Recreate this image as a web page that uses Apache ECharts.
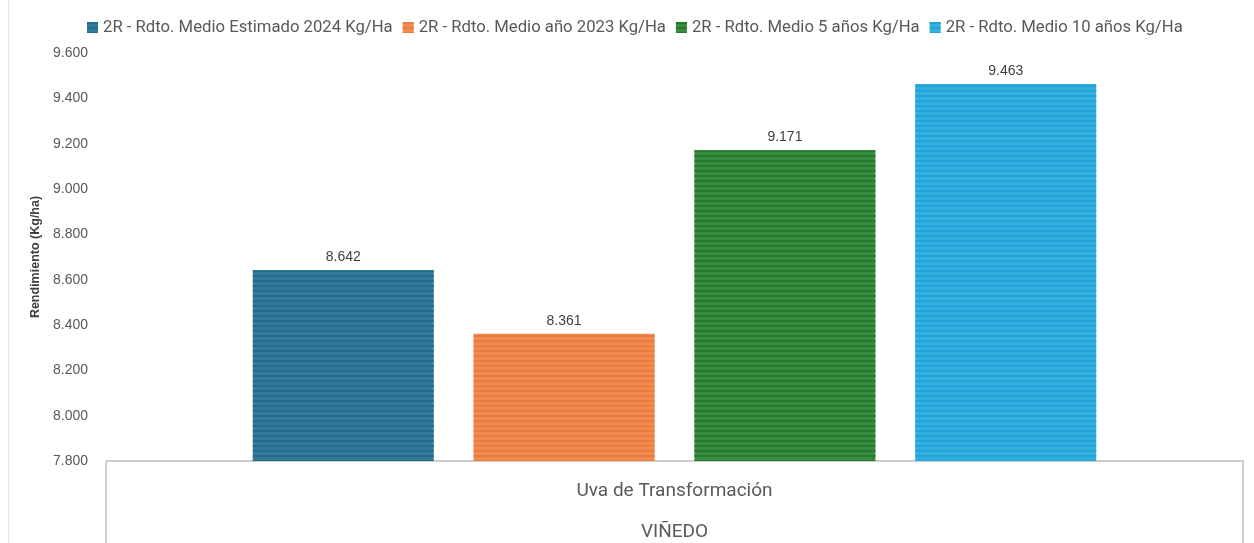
<!DOCTYPE html>
<html>
<head>
<meta charset="utf-8">
<script src="https://cdn.jsdelivr.net/npm/echarts@6/dist/echarts.min.js"></script>
<style>
  html, body { margin: 0; padding: 0; background: #fff; }
  #chart { width: 1254px; height: 543px; }
</style>
</head>
<body>
<div id="chart"></div>
<script>
// datos (Kg/ha)
var categorias = ['Uva de Transformación'];
var grupo = 'VIÑEDO';
var nombresSeries = [
    '2R - Rdto. Medio Estimado 2024 Kg/Ha',
    '2R - Rdto. Medio año 2023 Kg/Ha',
    '2R - Rdto. Medio 5 años Kg/Ha',
    '2R - Rdto. Medio 10 años Kg/Ha'
];
var rdto2024 = [8642];
var rdto2023 = [8361];
var rdto5 = [9171];
var rdto10 = [9463];
var ejeMin = 7800, ejeMax = 9600, ejeIntervalo = 200;

var colores = ['#33799a', '#f08a4e', '#398b3d', '#33afdf'];
var rayas = ['#236c8c', '#e87d40', '#287a2f', '#23a4d9'];

// separador de miles con punto
function miles(v) {
    return String(Math.round(v)).replace(/\B(?=(\d{3})+(?!\d))/g, '.');
}

var myChart = echarts.init(document.getElementById('chart'));

var valores = [rdto2024, rdto2023, rdto5, rdto10];
var series = [];
for (var i = 0; i < valores.length; i++) {
    series.push({
        name: nombresSeries[i],
        type: 'bar',
        barWidth: 181,
        barGap: '22%',
        data: valores[i],
        itemStyle: {
            color: colores[i],
            decal: {
                symbol: 'rect',
                symbolSize: 1,
                color: rayas[i],
                dashArrayX: [1, 0],
                dashArrayY: [2, 3],
                rotation: 0
            }
        },
        label: {
            show: true,
            position: 'top',
            distance: 6,
            color: '#404040',
            fontSize: 14,
            fontFamily: 'Liberation Sans',
            formatter: function (p) { return miles(p.value); }
        }
    });
}

var option = {
    backgroundColor: '#fff',
    color: colores,
    animation: false,
    legend: {
        top: 14,
        left: 82,
        itemWidth: 11,
        itemHeight: 11,
        itemGap: 10,
        icon: 'rect',
        textStyle: { color: '#595959', fontSize: 16.7, fontFamily: 'Roboto' },
        data: nombresSeries
    },
    grid: { left: 106, right: 11, top: 53, bottom: 82 },
    xAxis: {
        type: 'category',
        data: categorias,
        axisLine: { lineStyle: { color: '#cfcfcf', width: 2 } },
        axisTick: { show: true, length: 90, lineStyle: { color: '#cfcfcf', width: 2 } },
        axisLabel: {
            margin: 10,
            formatter: function (v) { return '{a|' + v + '}\n{b|' + grupo + '}'; },
            rich: {
                a: { fontSize: 19, fontFamily: 'Roboto', color: '#595959', lineHeight: 41 },
                b: { fontSize: 19, fontFamily: 'Roboto', color: '#595959', lineHeight: 41 }
            }
        }
    },
    yAxis: {
        type: 'value',
        min: ejeMin,
        max: ejeMax,
        interval: ejeIntervalo,
        name: 'Rendimiento (Kg/ha)',
        nameLocation: 'middle',
        nameGap: 60,
        nameTextStyle: { color: '#404040', fontSize: 12.5, fontWeight: 'bold', fontFamily: 'Liberation Sans' },
        splitLine: { show: false },
        axisLine: { show: false },
        axisTick: { show: false },
        axisLabel: {
            margin: 18,
            color: '#595959',
            fontSize: 14,
            fontFamily: 'Liberation Sans',
            formatter: function (v) { return miles(v); }
        }
    },
    graphic: [{
        type: 'line',
        shape: { x1: 8.5, y1: 0, x2: 8.5, y2: 543 },
        style: { stroke: '#e6e6e6', lineWidth: 1 },
        silent: true
    }],
    series: series
};
myChart.setOption(option);
</script>
</body>
</html>
